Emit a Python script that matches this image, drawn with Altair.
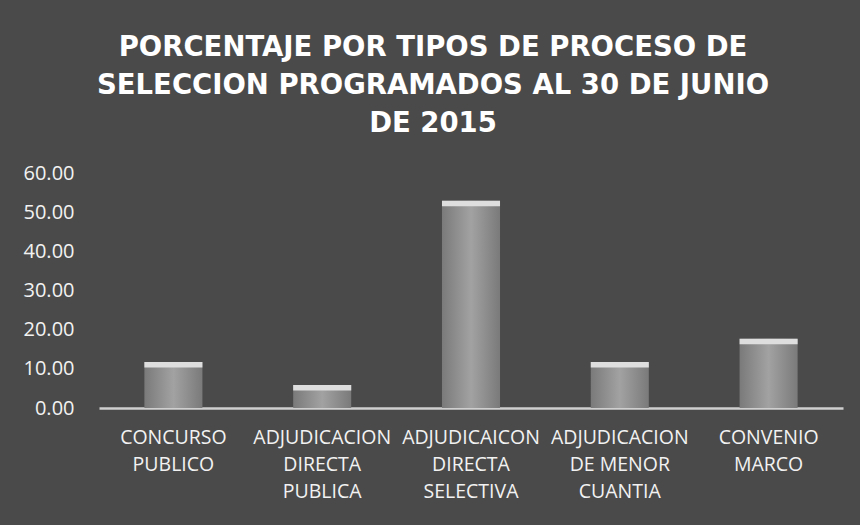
import altair as alt
import pandas as pd

categories = [
    "CONCURSO|PUBLICO",
    "ADJUDICACION|DIRECTA|PUBLICA",
    "ADJUDICAICON|DIRECTA|SELECTIVA",
    "ADJUDICACION|DE MENOR|CUANTIA",
    "CONVENIO|MARCO",
]
values = [11.76, 5.88, 52.94, 11.76, 17.65]
y_ticks = [0, 10, 20, 30, 40, 50, 60]

df = pd.DataFrame({"cat": categories, "val": values})

x_axis = alt.Axis(
    title=None,
    labelAngle=0,
    labelExpr="split(datum.label, '|')",
    labelColor="#f2f2f2",
    labelFont="Open Sans",
    labelFontSize=19.5,
    labelLineHeight=27,
    labelPadding=20,
    labelLimit=200,
    labelOverlap=False,
    ticks=False,
    domainColor="#cfcfcf",
    domainWidth=2.5,
)
y_axis = alt.Axis(
    title=None,
    values=y_ticks,
    format=".2f",
    grid=False,
    ticks=False,
    domain=False,
    labelOverlap=False,
    labelColor="#f2f2f2",
    labelFont="Open Sans",
    labelFontSize=20,
    labelPadding=25,
)
x_scale = alt.Scale(paddingInner=0.61, paddingOuter=0.305)
y_scale = alt.Scale(domain=[0, 60], nice=False)

bars = alt.Chart(df).mark_bar(
    color=alt.Gradient(
        gradient="linear",
        x1=0, x2=1, y1=0, y2=0,
        stops=[
            alt.GradientStop(color="#7a7a7a", offset=0),
            alt.GradientStop(color="#a2a2a2", offset=0.5),
            alt.GradientStop(color="#7a7a7a", offset=1),
        ],
    )
).encode(
    x=alt.X("cat:N", sort=categories, scale=x_scale, axis=x_axis),
    y=alt.Y("val:Q", scale=y_scale, axis=y_axis),
)

caps = alt.Chart(df).transform_calculate(
    top2="datum.val - 1.4"
).mark_bar(color="#dedede").encode(
    x=alt.X("cat:N", sort=categories, scale=x_scale, axis=x_axis),
    y=alt.Y("val:Q", scale=y_scale, axis=y_axis),
    y2="top2:Q",
)

chart = alt.layer(bars, caps).properties(
    width=744,
    height=235,
    autosize=alt.AutoSizeParams(type="none"),
    padding={"left": 99, "top": 173, "right": 17, "bottom": 117},
    background="#4a4a4a",
    title=alt.TitleParams(
        text=["PORCENTAJE POR TIPOS DE PROCESO DE", "SELECCION PROGRAMADOS AL 30 DE JUNIO", "DE 2015"],
        font="DejaVu Sans",
        fontSize=27.5,
        fontWeight="bold",
        color="#ffffff",
        anchor="middle",
        frame="bounds",
        lineHeight=38,
        offset=26,
    ),
).configure_view(stroke=None)

chart.save("out.html", embed_options={"renderer": "svg", "actions": False})
